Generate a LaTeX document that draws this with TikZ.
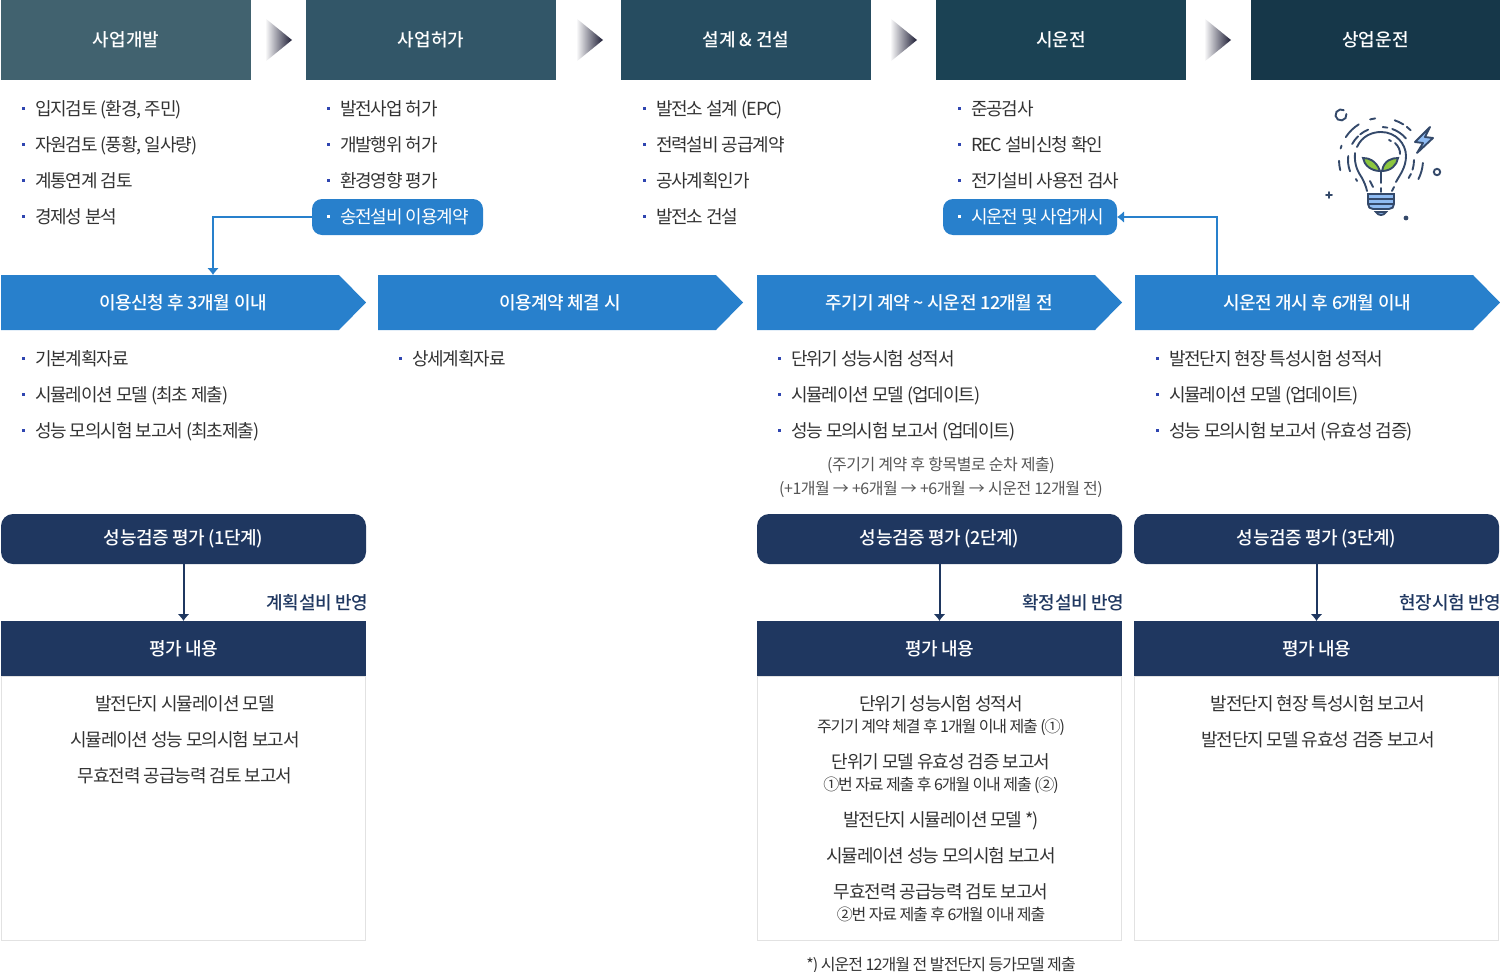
\documentclass[tikz,border=0pt]{standalone}
\usepackage{fontspec}
\setmainfont[LetterSpace=-6]{Noto Sans CJK KR}
\newfontfamily\medfont[LetterSpace=-2.5]{Noto Sans CJK KR Medium}
\newfontfamily\headfont[LetterSpace=0]{Noto Sans CJK KR Medium}
\newfontfamily\subfont[LetterSpace=-7]{Noto Sans CJK KR}
\newfontfamily\notefont[LetterSpace=-3]{Noto Sans CJK KR}
\usetikzlibrary{arrows.meta}
\definecolor{navy}{HTML}{1F3760}
\definecolor{sky}{HTML}{2880CC}
\definecolor{bodytxt}{HTML}{333333}
\definecolor{notetxt}{HTML}{555555}
\definecolor{edge}{HTML}{E2E2E2}
\definecolor{dotblue}{HTML}{2F45B0}
\definecolor{tridark}{HTML}{1C1C34}
\definecolor{bulbline}{HTML}{34496A}
\definecolor{bulbblue}{HTML}{8FBBF2}
\definecolor{leaf}{HTML}{8CC63F}
\definecolor{h1}{HTML}{41626F}
\definecolor{h2}{HTML}{325668}
\definecolor{h3}{HTML}{264C60}
\definecolor{h4}{HTML}{1B4254}
\definecolor{h5}{HTML}{163749}
\tikzset{
  every node/.style={outer sep=0pt},
  head/.style={anchor=north west,minimum width=250pt,minimum height=80pt,inner sep=0pt,text=white,font=\fontsize{18}{22}\selectfont\headfont},
  li/.style={anchor=base west,inner sep=0pt,text=bodytxt,font=\fontsize{18}{22}\selectfont},
  lipill/.style={li,text=white},
  pill/.style={fill=sky,rounded corners=10pt,anchor=north west,minimum height=36pt,inner sep=0pt},
  chev/.style={anchor=base,text=white,inner sep=0pt,font=\fontsize{18}{22}\selectfont\medfont},
  evalbar/.style={fill=navy,anchor=north west,minimum width=365pt,minimum height=50pt,rounded corners=12pt,inner sep=0pt,text=white,font=\fontsize{18}{22}\selectfont\medfont},
  evalhead/.style={fill=navy,anchor=north west,minimum width=365pt,minimum height=55pt,inner sep=0pt,text=white,font=\fontsize{18}{22}\selectfont\medfont},
  evalbox/.style={draw=edge,line width=1pt,anchor=north west,minimum width=364pt,minimum height=264pt,inner sep=0pt},
  evaltxt/.style={anchor=base,inner sep=0pt,text=bodytxt,font=\fontsize{18}{22}\selectfont},
  evalsub/.style={anchor=base,inner sep=0pt,text=bodytxt,font=\fontsize{16}{20}\selectfont\subfont},
  note/.style={anchor=base,inner sep=0pt,text=notetxt,font=\fontsize{16}{20}\selectfont\notefont},
  reflect/.style={anchor=base east,inner sep=0pt,text=navy,font=\fontsize{18}{22}\selectfont\medfont},
  skyarrow/.style={draw=sky,line width=1.6pt,-{Latex[length=7pt,width=12pt]}},
  navyarrow/.style={draw=navy,line width=2pt,-{Latex[length=7pt,width=12pt]}},
  bulb/.style={draw=bulbline,line width=1.9pt,line cap=round}
}
\newcommand{\bul}[3]{\fill[#3] (#1,#2-1.5) rectangle (#1+3,#2+1.5);}
\newcommand{\listitem}[4]{\bul{#2}{#3}{dotblue}\node[li] (#1) at (#2+13,#3+7) {#4};}
\newcommand{\chevron}[3]{\fill[sky] (#2,275) -- (#2+338,275) -- (#2+365,302.5) -- (#2+338,330) -- (#2,330) -- cycle;
  \node[chev] (#1) at (#2+182,309) {#3};}
\newcommand{\tri}[1]{\shade[left color=white,right color=tridark] (#1,18) -- (#1+27,40) -- (#1,62) -- cycle;}
\newcommand{\lowtxt}[1]{\raisebox{-3pt}{#1}}
\begin{document}
\begin{tikzpicture}[x=1pt,y=-1pt]
  \useasboundingbox (0,0) rectangle (1500,972);
  % top row
  \node[head,fill=h1] (devel) at (1,0) {사업개발};
  \node[head,fill=h2] (permit) at (306,0) {사업허가};
  \node[head,fill=h3] (build) at (621,0) {설계 \& 건설};
  \node[head,fill=h4] (trial) at (936,0) {시운전};
  \node[head,fill=h5,minimum width=249pt] (oper) at (1251,0) {상업운전};
  \tri{265}
  \tri{576}
  \tri{890}
  \tri{1204}
  % lists under the top row
  \listitem{aa}{22}{108}{입지검토 (환경, 주민)}
  \listitem{ab}{22}{144}{자원검토 (풍황, 일사량)}
  \listitem{ac}{22}{180}{계통연계 검토}
  \listitem{ad}{22}{216}{경제성 분석}
  \listitem{ba}{327}{108}{발전사업 허가}
  \listitem{bb}{327}{144}{개발행위 허가}
  \listitem{bc}{327}{180}{환경영향 평가}
  \node[pill,minimum width=171pt] (pilla) at (312,199) {};
  \bul{327}{216}{white}
  \node[lipill] (bd) at (340,223) {송전설비 이용계약};
  \listitem{ca}{643}{108}{발전소 설계 (EPC)}
  \listitem{cb}{643}{144}{전력설비 공급계약}
  \listitem{cc}{643}{180}{공사계획인가}
  \listitem{cd}{643}{216}{발전소 건설}
  \listitem{da}{958}{108}{준공검사}
  \listitem{db}{958}{144}{REC 설비신청 확인}
  \listitem{dc}{958}{180}{전기설비 사용전 검사}
  \node[pill,minimum width=174pt] (pillb) at (943,199) {};
  \bul{958}{216}{white}
  \node[lipill] (dd) at (971,223) {시운전 및 사업개시};
  % light bulb
  \begin{scope}
    \draw[bulb,fill=bulbblue] (1368,194) -- (1394,194) -- (1394,204) .. controls (1394,207) and (1392,209) .. (1389,209) -- (1373,209) .. controls (1370,209) and (1368,207) .. (1368,204) -- cycle;
    \draw[draw=bulbline,line width=2pt] (1368,199) -- (1394,199);
    \draw[draw=bulbline,line width=1.5pt] (1369,204) -- (1393,204);
    \draw[bulb,fill=bulbblue] (1376,212) .. controls (1378,216) and (1384,216) .. (1386,212) -- cycle;
    \draw[bulb] (1357,147) .. controls (1362,136) and (1372,132) .. (1381,132) .. controls (1396,132) and (1406,144) .. (1406,156) .. controls (1406,168) and (1399,176) .. (1396,182);
    \draw[bulb] (1355,153) .. controls (1354,165) and (1358,172) .. (1362,178) .. controls (1364,182) and (1366,186) .. (1367,191);
    \draw[bulb] (1370,181) -- (1373,187);
    \draw[bulb] (1394,187) -- (1392,191);
    \draw[bulb] (1381,172) -- (1381,183);
    \draw[bulb] (1381,188) -- (1381,192);
    \draw[bulb] (1356,179) -- (1357,181);
    \draw[bulb] (1389,140) -- (1391,141);
    \draw[bulb] (1395,143) .. controls (1399,147) and (1400,150) .. (1400,154);
    \draw[bulb,fill=leaf] (1380,171) .. controls (1376,160) and (1368,158) .. (1363,158) .. controls (1364,165) and (1371,171) .. (1380,171) -- cycle;
    \draw[bulb,fill=leaf] (1382,171) .. controls (1384,160) and (1392,158) .. (1398,158) .. controls (1397,165) and (1391,171) .. (1382,171) -- cycle;
    \draw[bulb,fill=bulbblue,line join=round] (1430,127) -- (1415,142) -- (1423,143) -- (1417,153) -- (1433,138) -- (1425,137) -- cycle;
    \draw[bulb] (1346.4,114) arc (-10:300:5.5);
    \draw[bulb,fill=white] (1437,172) circle (3.2);
    \fill[bulbline] (1406,218) circle (2.4);
    \draw[bulb] (1326,195) -- (1332,195);
    \draw[bulb] (1329,192) -- (1329,198);
    \foreach \a/\b in {255/262,289/302,308/315,213/238,196/200,166/179,4/27}
      \draw[bulb] ([shift={(1381,160)}]\a:42) arc (\a:\b:42);
    \foreach \a/\b in {160/187,209/226,231/247,273/281,290/319,0/17,25/33}
      \draw[bulb] ([shift={(1381,160)}]\a:33) arc (\a:\b:33);
  \end{scope}
  % second row
  \chevron{stepa}{1}{이용신청 후 3개월 이내}
  \chevron{stepb}{378}{이용계약 체결 시}
  \chevron{stepc}{757}{주기기 계약 \textasciitilde{} 시운전 12개월 전}
  \chevron{stepd}{1135}{시운전 개시 후 6개월 이내}
  \coordinate (stepatop) at (213,275);
  \coordinate (stepdtop) at (1217,275);
  \draw[skyarrow] (pilla.west) -| (stepatop);
  \draw[skyarrow] (stepdtop) |- (pillb.east);
  \listitem{ea}{22}{358}{기본계획자료}
  \listitem{eb}{22}{394}{시뮬레이션 모델 (최초 제출)}
  \listitem{ec}{22}{430}{성능 모의시험 보고서 (최초제출)}
  \listitem{fa}{399}{358}{상세계획자료}
  \listitem{ga}{778}{358}{단위기 성능시험 성적서}
  \listitem{gb}{778}{394}{시뮬레이션 모델 (업데이트)}
  \listitem{gc}{778}{430}{성능 모의시험 보고서 (업데이트)}
  \listitem{ha}{1156}{358}{발전단지 현장 특성시험 성적서}
  \listitem{hb}{1156}{394}{시뮬레이션 모델 (업데이트)}
  \listitem{hc}{1156}{430}{성능 모의시험 보고서 (유효성 검증)}
  \node[note] (notea) at (941,470.5) {(주기기 계약 후 항목별로 순차 제출)};
  \node[note] (noteb) at (941,494.5) {(+1개월 → +6개월 → +6개월 → 시운전 12개월 전)};
  % evaluation
  \node[evalbar] (bara) at (1,514) {\lowtxt{성능검증 평가 (1단계)}};
  \node[evalbar] (barb) at (757,514) {\lowtxt{성능검증 평가 (2단계)}};
  \node[evalbar] (barc) at (1134,514) {\lowtxt{성능검증 평가 (3단계)}};
  \node[evalhead] (heada) at (1,621) {평가 내용};
  \node[evalhead] (headb) at (757,621) {평가 내용};
  \node[evalhead] (headc) at (1134,621) {평가 내용};
  \draw[navyarrow] (bara) -- (heada);
  \draw[navyarrow] (barb) -- (headb);
  \draw[navyarrow] (barc) -- (headc);
  \node[reflect] (refa) at (368,609) {계획설비 반영};
  \node[reflect] (refb) at (1124,609) {확정설비 반영};
  \node[reflect] (refc) at (1501,609) {현장시험 반영};
  \node[evalbox] (boxa) at (1.5,676.5) {};
  \node[evalbox] (boxb) at (757.5,676.5) {};
  \node[evalbox] (boxc) at (1134.5,676.5) {};
  \node[evaltxt] (ta) at (185,710) {발전단지 시뮬레이션 모델};
  \node[evaltxt] (tb) at (185,746) {시뮬레이션 성능 모의시험 보고서};
  \node[evaltxt] (tc) at (185,782) {무효전력 공급능력 검토 보고서};
  \node[evaltxt] (ua) at (941,710) {단위기 성능시험 성적서};
  \node[evalsub] (ub) at (941,732.5) {주기기 계약 체결 후 1개월 이내 제출 (①)};
  \node[evaltxt] (uc) at (941,768) {단위기 모델 유효성 검증 보고서};
  \node[evalsub] (ud) at (941,790.5) {①번 자료 제출 후 6개월 이내 제출 (②)};
  \node[evaltxt] (ue) at (941,826) {발전단지 시뮬레이션 모델 *)};
  \node[evaltxt] (uf) at (941,862) {시뮬레이션 성능 모의시험 보고서};
  \node[evaltxt] (ug) at (941,898) {무효전력 공급능력 검토 보고서};
  \node[evalsub] (uh) at (941,920.5) {②번 자료 제출 후 6개월 이내 제출};
  \node[evaltxt] (va) at (1318,710) {발전단지 현장 특성시험 보고서};
  \node[evaltxt] (vb) at (1318,746) {발전단지 모델 유효성 검증 보고서};
  \node[evaltxt,font=\fontsize{16}{20}\selectfont] (foot) at (941,970) {*) 시운전 12개월 전 발전단지 등가모델 제출};
\end{tikzpicture}
\end{document}
